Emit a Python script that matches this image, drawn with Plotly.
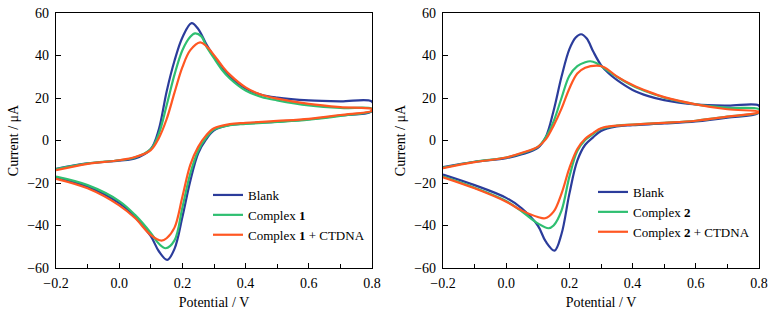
import plotly.graph_objects as go

# ---------------- data ----------------
# Left panel: Blank / Complex 1 / Complex 1 + CTDNA
E1_BLANK_FWD = [-0.2, -0.1, 0.0, 0.05, 0.1, 0.125, 0.15, 0.175, 0.2, 0.229, 0.25, 0.275, 0.3, 0.325, 0.35, 0.4, 0.45, 0.5, 0.6, 0.7, 0.8]
I1_BLANK_FWD = [-13.3, -10.8, -9.5, -8.5, -4, 5, 23, 37.5, 48.5, 55.2, 52.5, 45.5, 39.4, 34, 30, 24.5, 21.5, 20.2, 18.9, 18.4, 18.3]
E1_BLANK_REV = [0.8, 0.7, 0.6, 0.5, 0.4, 0.35, 0.3, 0.275, 0.25, 0.225, 0.2, 0.175, 0.152, 0.125, 0.1, 0.05, 0.0, -0.1, -0.2]
I1_BLANK_REV = [13.9, 11.8, 10, 8.9, 8, 7.3, 4.8, 0.5, -6, -19, -36, -51, -56.2, -52, -45, -36, -29.5, -21.7, -17.3]

E1_CPX_FWD = [-0.2, -0.1, 0.0, 0.05, 0.1, 0.125, 0.15, 0.175, 0.2, 0.225, 0.24, 0.26, 0.275, 0.3, 0.325, 0.35, 0.4, 0.45, 0.5, 0.6, 0.7, 0.8]
I1_CPX_FWD = [-13.5, -10.8, -9.3, -8, -4, 3, 16.5, 31, 42.5, 48.8, 50.4, 49, 44.5, 38.7, 33.3, 29.2, 23.5, 20.5, 18.9, 16.5, 15.3, 15]
E1_CPX_REV = [0.8, 0.7, 0.6, 0.5, 0.4, 0.35, 0.3, 0.275, 0.25, 0.225, 0.2, 0.175, 0.147, 0.125, 0.1, 0.05, 0.0, -0.1, -0.2]
I1_CPX_REV = [13.9, 11.6, 9.8, 8.7, 7.8, 7.2, 5.1, 1.2, -4.8, -15.5, -31.5, -47, -50.7, -48.5, -43.5, -35, -28.5, -21, -17]

E1_DNA_FWD = [-0.2, -0.1, 0.0, 0.05, 0.1, 0.125, 0.15, 0.175, 0.2, 0.225, 0.256, 0.275, 0.3, 0.325, 0.35, 0.4, 0.45, 0.5, 0.6, 0.7, 0.8]
I1_DNA_FWD = [-14, -11, -9.3, -7.8, -4.5, 1, 10, 22.5, 34.5, 42.5, 46.2, 44.5, 40.2, 35.2, 31, 25, 21.5, 19.7, 17.2, 15.7, 14.8]
E1_DNA_REV = [0.8, 0.7, 0.6, 0.5, 0.4, 0.35, 0.3, 0.275, 0.25, 0.225, 0.2, 0.175, 0.15, 0.134, 0.1, 0.05, 0.0, -0.1, -0.2]
I1_DNA_REV = [14, 12, 10.2, 9.2, 8.3, 7.7, 5.8, 2.4, -3, -11.5, -26.5, -41, -46, -47.1, -44.5, -36.5, -30.5, -22.5, -18]

# Right panel: Blank / Complex 2 / Complex 2 + CTDNA
E2_BLANK_FWD = [-0.2, -0.1, 0.0, 0.05, 0.1, 0.125, 0.15, 0.175, 0.2, 0.22, 0.237, 0.255, 0.275, 0.3, 0.325, 0.35, 0.4, 0.45, 0.5, 0.6, 0.7, 0.8]
I2_BLANK_FWD = [-12.5, -10, -8.3, -6.5, -3.5, 1.5, 14, 30, 43, 48.5, 50, 48, 42, 35.5, 31.5, 28.5, 23.8, 20.9, 19, 17, 16.4, 16.4]
E2_BLANK_REV = [0.8, 0.7, 0.6, 0.5, 0.4, 0.35, 0.3, 0.275, 0.25, 0.225, 0.2, 0.175, 0.153, 0.125, 0.1, 0.05, 0.0, -0.1, -0.2]
I2_BLANK_REV = [13.1, 10.8, 9, 8, 7.2, 6.6, 4.5, 1.5, -2, -9.5, -25, -44, -51.8, -47.5, -40, -32, -27, -21, -16]

E2_CPX_FWD = [-0.2, -0.1, 0.0, 0.05, 0.1, 0.125, 0.15, 0.175, 0.2, 0.225, 0.25, 0.266, 0.285, 0.3, 0.35, 0.4, 0.45, 0.5, 0.6, 0.7, 0.8]
I2_CPX_FWD = [-12.8, -10, -8, -6, -3, 1.5, 9, 20, 30.5, 35, 36.8, 37.3, 36.5, 35, 30, 25.8, 22.7, 20.2, 17, 15.4, 14.7]
E2_CPX_REV = [0.8, 0.7, 0.6, 0.5, 0.4, 0.35, 0.3, 0.275, 0.25, 0.225, 0.2, 0.175, 0.15, 0.134, 0.1, 0.05, 0.0, -0.1, -0.2]
I2_CPX_REV = [13.3, 11.2, 9.3, 8.3, 7.5, 7, 5.5, 3, 0.2, -5, -17, -33, -40, -41.3, -39, -33.5, -28.5, -22.2, -17]

E2_DNA_FWD = [-0.2, -0.1, 0.0, 0.05, 0.1, 0.125, 0.15, 0.175, 0.2, 0.225, 0.25, 0.287, 0.31, 0.35, 0.4, 0.45, 0.5, 0.6, 0.7, 0.8]
I2_DNA_FWD = [-13, -10.2, -8, -5.8, -3, 0.5, 7, 15, 24.5, 31.5, 34.2, 35.2, 34.5, 30.2, 26.1, 23, 20.4, 17, 14.7, 13.6]
E2_DNA_REV = [0.8, 0.7, 0.6, 0.5, 0.4, 0.35, 0.3, 0.275, 0.25, 0.225, 0.2, 0.175, 0.15, 0.123, 0.1, 0.05, 0.0, -0.1, -0.2]
I2_DNA_REV = [13.3, 11.2, 9.3, 8.3, 7.5, 7, 5.8, 3.5, 0.8, -4, -13, -25, -33.5, -36.6, -36, -33, -28.8, -22.5, -17.3]

NAMES_1 = ["Blank", "Complex <b>1</b>", "Complex <b>1</b> + CTDNA"]
NAMES_2 = ["Blank", "Complex <b>2</b>", "Complex <b>2</b> + CTDNA"]
COLORS = ["#2B3C9B", "#2FBF71", "#FF5722"]

X_TICKS = [-0.2, 0.0, 0.2, 0.4, 0.6, 0.8]
Y_TICKS = [-60, -40, -20, 0, 20, 40, 60]
X_TITLE = "Potential / V"
Y_TITLE = "Current / μA"

# ---------------- figure ----------------
FONT = "Liberation Serif, Times New Roman, serif"
fig = go.Figure()

panel1 = [(E1_BLANK_FWD, I1_BLANK_FWD, E1_BLANK_REV, I1_BLANK_REV),
          (E1_CPX_FWD, I1_CPX_FWD, E1_CPX_REV, I1_CPX_REV),
          (E1_DNA_FWD, I1_DNA_FWD, E1_DNA_REV, I1_DNA_REV)]
panel2 = [(E2_BLANK_FWD, I2_BLANK_FWD, E2_BLANK_REV, I2_BLANK_REV),
          (E2_CPX_FWD, I2_CPX_FWD, E2_CPX_REV, I2_CPX_REV),
          (E2_DNA_FWD, I2_DNA_FWD, E2_DNA_REV, I2_DNA_REV)]

for (ef, i_f, er, i_r), name, col in zip(panel1, NAMES_1, COLORS):
    fig.add_trace(go.Scatter(x=ef + er, y=i_f + i_r, mode="lines", name=name,
                             line=dict(color=col, width=2.2, shape="spline", smoothing=1.0),
                             xaxis="x", yaxis="y", legend="legend"))
for (ef, i_f, er, i_r), name, col in zip(panel2, NAMES_2, COLORS):
    fig.add_trace(go.Scatter(x=ef + er, y=i_f + i_r, mode="lines", name=name,
                             line=dict(color=col, width=2.2, shape="spline", smoothing=1.0),
                             xaxis="x2", yaxis="y2", legend="legend2"))

W, H = 773, 315
tickfont = dict(family=FONT, size=14, color="black")
titlefont = dict(family=FONT, size=14, color="black")

def xaxis(domain, anchor):
    return dict(domain=domain, anchor=anchor, range=[-0.2, 0.8],
                tickvals=X_TICKS, tickformat=".1f",
                ticks="inside", ticklen=5, tickwidth=1, tickcolor="black",
                minor=dict(dtick=0.1, tick0=-0.2, ticks="inside", ticklen=4, tickcolor="black", showgrid=False),
                showline=True, linecolor="black", linewidth=1.3, mirror=True,
                showgrid=False, zeroline=False, tickfont=tickfont,
                ticklabelstandoff=2, ticklabeloverflow="allow", automargin=False,
                title=dict(text=X_TITLE, font=titlefont, standoff=7))

def yaxis(domain, anchor):
    return dict(domain=domain, anchor=anchor, range=[-60, 60],
                tickvals=Y_TICKS,
                ticks="inside", ticklen=5, tickwidth=1, tickcolor="black",
                showline=True, linecolor="black", linewidth=1.3, mirror=True,
                showgrid=False, zeroline=False, tickfont=tickfont,
                ticklabelstandoff=3, ticklabeloverflow="allow", automargin=False,
                title=dict(text=Y_TITLE, font=titlefont, standoff=5))

ydom = [1 - 268 / H, 1 - 13 / H]
legfont = dict(family=FONT, size=13, color="black")

fig.update_layout(
    width=W, height=H,
    margin=dict(l=0, r=0, t=0, b=0),
    paper_bgcolor="white", plot_bgcolor="white",
    xaxis=xaxis([56 / W, 372 / W], "y"),
    yaxis=yaxis(ydom, "x"),
    xaxis2=xaxis([443 / W, 759 / W], "y2"),
    yaxis2=yaxis(ydom, "x2"),
    legend=dict(x=208 / W, y=1 - 180 / H, xanchor="left", yanchor="top",
                bgcolor="rgba(0,0,0,0)", font=legfont, tracegroupgap=0,
                itemwidth=30),
    legend2=dict(x=593 / W, y=1 - 177 / H, xanchor="left", yanchor="top",
                 bgcolor="rgba(0,0,0,0)", font=legfont, tracegroupgap=0,
                 itemwidth=30),
    showlegend=True,
)

# remove the default 8px page margin so the figure fills the window exactly
fig.write_html("out.html", config={"displayModeBar": False},
               post_script="document.body.style.margin='0px';")
